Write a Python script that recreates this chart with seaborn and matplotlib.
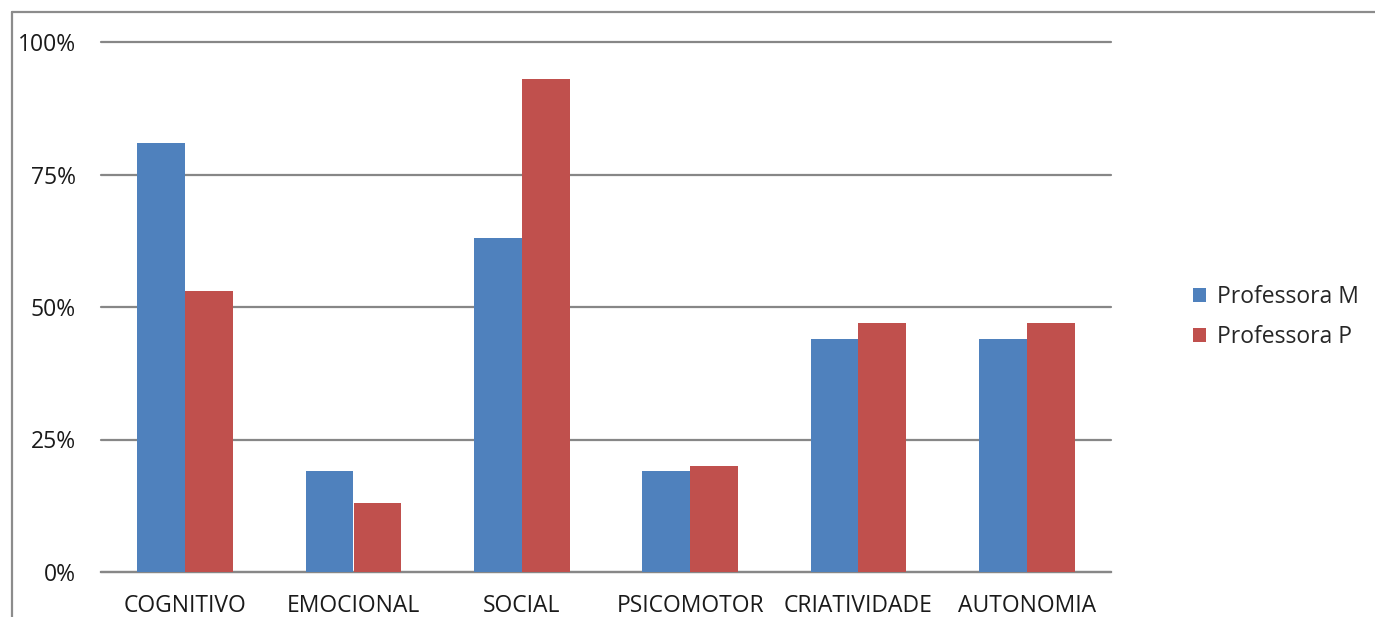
import pandas as pd
import numpy as np
import matplotlib
matplotlib.use('Agg')
import matplotlib.pyplot as plt
import seaborn as sns
from matplotlib.lines import Line2D

# --- Data ---
categories = ['COGNITIVO', 'EMOCIONAL', 'SOCIAL', 'PSICOMOTOR', 'CRIATIVIDADE', 'AUTONOMIA']
professora_m = [81, 19, 63, 19, 44, 44]
professora_p = [53, 13, 93, 20, 47, 47]
series_names = ['Professora M', 'Professora P']
y_ticks = [0, 25, 50, 75, 100]
y_tick_labels = ['0%', '25%', '50%', '75%', '100%']

df = pd.DataFrame({
    'categoria': categories * 2,
    'valor': professora_m + professora_p,
    'serie': [series_names[0]] * len(categories) + [series_names[1]] * len(categories),
})

# --- Style ---
sns.set_theme(style='white')
plt.rcParams['font.family'] = ['Open Sans', 'DejaVu Sans']
palette = {'Professora M': '#4F81BD', 'Professora P': '#C0504D'}
grid_color = '#878787'
fs = 16.5

fig = plt.figure(figsize=(13.75, 6.17), dpi=100)
ax = fig.add_axes([101 / 1375, 1 - 572 / 617, 1010 / 1375, 530 / 617])

sns.barplot(data=df, x='categoria', y='valor', hue='serie', palette=palette,
            width=0.57, gap=0, saturation=1, ax=ax, zorder=3, edgecolor='none')

ax.set_ylim(0, 100)
ax.set_xlim(-0.5, len(categories) - 0.5)
ax.set_yticks(y_ticks)
ax.set_yticklabels(y_tick_labels)
ax.yaxis.grid(True, color=grid_color, linewidth=1.6, zorder=0)
for gl in ax.get_ygridlines():
    gl.set_clip_on(False)
ax.set_axisbelow(True)
ax.tick_params(axis='y', length=0, pad=18, labelsize=fs, labelcolor='#1a1a1a')
# labels sit close to the bottom edge, as in the original
ax.tick_params(axis='x', length=0, pad=16, labelsize=fs, labelcolor='#1a1a1a')
ax.set_xlabel('')
ax.set_ylabel('')
for side in ['top', 'right', 'left']:
    ax.spines[side].set_visible(False)
ax.spines['bottom'].set_color(grid_color)
ax.spines['bottom'].set_linewidth(1.6)

# legend
handles, labels = ax.get_legend_handles_labels()
ax.legend(handles, labels, loc='center left', bbox_to_anchor=(1172 / 1375, 1 - 317 / 617),
          bbox_transform=fig.transFigure, frameon=False, fontsize=fs,
          handlelength=0.6, handleheight=0.6, handletextpad=0.45, labelspacing=0.7)

# chart frame (cut at right and bottom)
fig.add_artist(Line2D([12 / 1375, 1.0], [1 - 12 / 617, 1 - 12 / 617],
                      transform=fig.transFigure, color='#8c8c8c', linewidth=1.6))
fig.add_artist(Line2D([12 / 1375, 12 / 1375], [0, 1 - 12 / 617],
                      transform=fig.transFigure, color='#8c8c8c', linewidth=1.6))

fig.savefig('out.png', dpi=100)
